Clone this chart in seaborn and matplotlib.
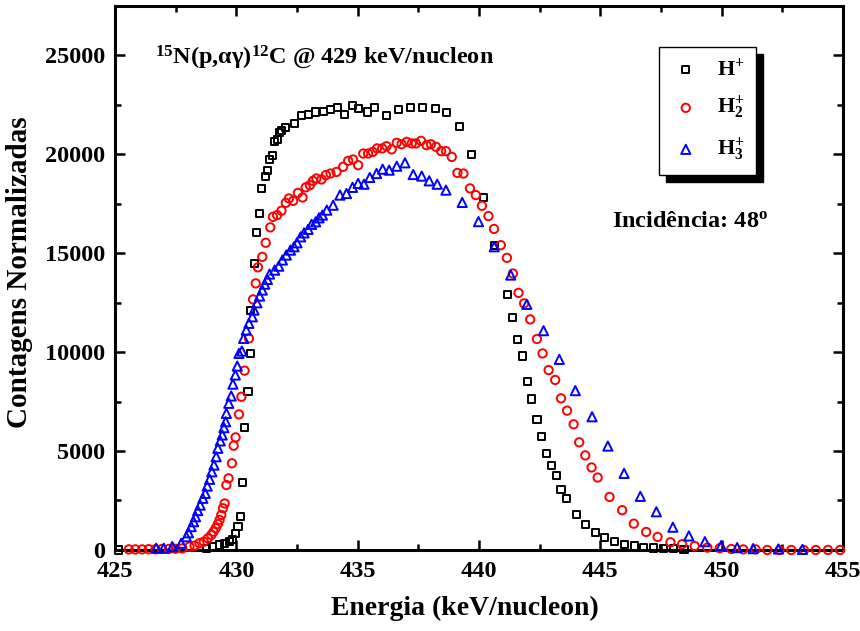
import matplotlib
matplotlib.use("Agg")
import matplotlib.pyplot as plt
import seaborn as sns
import pandas as pd
from matplotlib.patches import Rectangle
from matplotlib.transforms import IdentityTransform
from matplotlib.ticker import MultipleLocator

# ---------------- data ----------------
x_H1 = [425.15, 428.76, 429.03, 429.31, 429.52, 429.72, 429.86, 429.97, 430.07, 430.18,
        430.27, 430.34, 430.48, 430.58, 430.59, 430.76, 430.85, 430.96, 431.03, 431.20,
        431.28, 431.37, 431.49, 431.58, 431.68, 431.79, 431.86, 432.04, 432.38, 432.68,
        432.96, 433.27, 433.58, 433.89, 434.16, 434.47, 434.79, 435.05, 435.39, 435.68,
        436.19, 436.67, 437.18, 437.68, 438.19, 438.67, 439.19, 439.70, 440.18, 440.64,
        441.19, 441.38, 441.59, 441.79, 442.00, 442.18, 442.39, 442.56, 442.80, 442.98,
        443.18, 443.38, 443.60, 444.00, 444.38, 444.79, 445.18, 445.59, 445.99, 446.40,
        446.79, 447.20, 447.61, 448.03, 448.45]
y_H1 = [0, 90, 170, 250, 340, 420, 540, 840, 1180, 1680,
        3400, 6180, 7990, 9930, 12120, 14480, 16030, 17000, 18250, 18890,
        19190, 19750, 19910, 20620, 20740, 21070, 21180, 21350, 21550, 21970,
        22020, 22130, 22170, 22260, 22360, 22020, 22460, 22310, 22130, 22360,
        21970, 22270, 22360, 22360, 22310, 22100, 21380, 20000, 17810, 15400,
        12930, 11730, 10640, 9800, 8500, 7630, 6600, 5720, 4880, 4290,
        3750, 3070, 2580, 1800, 1300, 890, 640, 420, 290, 200,
        140, 100, 70, 70, 40]

x_H2 = [425.57, 425.84, 426.12, 426.39, 426.67, 426.94, 427.22, 427.49, 427.77, 428.07,
        428.28, 428.48, 428.66, 428.83, 428.97, 429.06, 429.15, 429.24, 429.31, 429.38,
        429.45, 429.52, 429.59, 429.68, 429.82, 429.89, 429.97, 430.11, 430.21, 430.34,
        430.52, 430.69, 430.80, 430.89, 431.07, 431.21, 431.40, 431.51, 431.68, 431.86,
        432.04, 432.17, 432.34, 432.54, 432.73, 432.86, 433.03, 433.16, 433.30, 433.51,
        433.69, 433.88, 434.13, 434.40, 434.61, 434.81, 435.02, 435.23, 435.43, 435.62,
        435.80, 436.01, 436.19, 436.40, 436.61, 436.81, 437.02, 437.23, 437.40, 437.61,
        437.84, 438.02, 438.23, 438.44, 438.64, 438.88, 439.11, 439.36, 439.63, 439.87,
        440.12, 440.39, 440.62, 440.90, 441.15, 441.40, 441.63, 441.86, 442.11, 442.39,
        442.62, 442.87, 443.14, 443.38, 443.63, 443.90, 444.13, 444.38, 444.64, 444.89,
        445.38, 445.90, 446.38, 446.89, 447.36, 447.89, 448.37, 448.89, 449.41, 449.92,
        450.40, 450.89, 451.40, 451.88, 452.39, 452.87, 453.39, 453.88, 454.38, 454.88]
y_H2 = [30, 30, 30, 40, 40, 50, 50, 60, 80, 170,
        220, 340, 420, 590, 760, 920, 1100, 1310, 1520, 1770,
        2110, 2350, 3280, 3620, 4380, 5270, 5690, 6850, 7740, 9060,
        10690, 12660, 13470, 14280, 14810, 15520, 16300, 16830, 16920, 17140,
        17540, 17760, 17640, 18040, 17810, 18320, 18430, 18650, 18770, 18720,
        18940, 19020, 19100, 19360, 19660, 19730, 19440, 20030, 20030, 20110,
        20290, 20290, 20400, 20240, 20570, 20500, 20620, 20540, 20540, 20670,
        20450, 20500, 20370, 20150, 20150, 19860, 19050, 19020, 18270, 17930,
        17390, 16870, 16220, 15400, 14760, 13970, 12990, 12460, 11650, 10660,
        9930, 9090, 8590, 7660, 7040, 6350, 5440, 4780, 4170, 3660,
        2680, 2010, 1330, 910, 660, 390, 290, 200, 120, 90,
        50, 30, 30, 0, 0, 0, 0, 0, 0, 0]

x_H3 = [426.70, 427.01, 427.36, 427.73, 427.94, 428.03, 428.14, 428.24, 428.32, 428.41,
        428.51, 428.62, 428.72, 428.80, 428.90, 428.99, 429.08, 429.17, 429.24, 429.34,
        429.42, 429.49, 429.56, 429.59, 429.69, 429.79, 429.86, 429.96, 430.04, 430.11,
        430.23, 430.30, 430.41, 430.52, 430.66, 430.73, 430.85, 430.96, 431.07, 431.17,
        431.28, 431.37, 431.58, 431.75, 431.90, 432.06, 432.23, 432.38, 432.50, 432.65,
        432.79, 432.96, 433.10, 433.27, 433.41, 433.55, 433.73, 433.99, 434.27, 434.54,
        434.79, 435.02, 435.26, 435.50, 435.78, 436.03, 436.30, 436.61, 436.95, 437.29,
        437.64, 437.95, 438.28, 438.64, 439.31, 439.98, 440.63, 441.31, 441.97, 442.66,
        443.31, 443.97, 444.66, 445.31, 445.98, 446.65, 447.31, 447.99, 448.65, 449.31,
        449.98, 450.64, 451.30, 452.34, 453.33]
y_H3 = [90, 90, 170, 340, 670, 870, 1180, 1430, 1680, 1990,
        2270, 2610, 2860, 3230, 3570, 3950, 4290, 4710, 5140, 5510,
        5810, 6180, 6480, 6900, 7410, 7780, 8380, 8840, 9290, 9930,
        10050, 10690, 11110, 11450, 11780, 12120, 12490, 12830, 13130, 13430,
        13670, 13940, 14140, 14340, 14650, 14900, 15150, 15320, 15520, 15820,
        16020, 16200, 16450, 16580, 16780, 16920, 17170, 17420, 17930, 18010,
        18320, 18520, 18480, 18820, 19020, 19240, 19190, 19390, 19560, 18970,
        18890, 18650, 18480, 18180, 17560, 16590, 15320, 13890, 12410, 11080,
        9630, 8050, 6730, 5250, 3870, 2710, 1930, 1150, 710, 420,
        220, 120, 70, 50, 30]

labels = [r"H$^{+}$", r"H$_{2}^{+}$", r"H$_{3}^{+}$"]
x_ticks = [425, 430, 435, 440, 445, 450, 455]
y_ticks = [0, 5000, 10000, 15000, 20000, 25000]
title_text = r"$^{15}$N(p,αγ)$^{12}$C @ 429 keV/nucleon"
incid_text = r"Incidência: 48$^{\mathrm{o}}$"
x_label = "Energia (keV/nucleon)"
y_label = "Contagens Normalizadas"

# ---------------- style ----------------
sns.set_theme(style="ticks")
plt.rcParams.update({
    "font.family": ["Liberation Serif", "DejaVu Serif"],
    "font.weight": "bold",
    "axes.labelweight": "bold",
    "text.color": "black",
    "axes.labelcolor": "black",
    "xtick.color": "black",
    "ytick.color": "black",
    "axes.edgecolor": "black",
    "mathtext.fontset": "custom",
    "mathtext.rm": "Liberation Serif:bold",
    "mathtext.bf": "Liberation Serif:bold",
    "mathtext.it": "Liberation Serif:italic:bold",
    "mathtext.sf": "Liberation Serif:bold",
})

fig = plt.figure(figsize=(8.6, 6.31), dpi=100)
ax = fig.add_axes([0.1337, 0.1284, 0.8465, 0.8626])

series = [
    (x_H1, y_H1, labels[0], "s", "black", 26),
    (x_H2, y_H2, labels[1], "o", "#ff0000", 36),
    (x_H3, y_H3, labels[2], "^", "#0000ff", 44),
]
for i, (xs, ys, lab, mk, col, sz) in enumerate(series):
    df = pd.DataFrame({"E": xs, "C": ys})
    sns.scatterplot(data=df, x="E", y="C", ax=ax, marker=mk, s=sz,
                    color=col, facecolor="none", edgecolor=col,
                    linewidth=1.4, label=lab, clip_on=False, zorder=3 + i)

ax.set_xlim(425, 455)
ax.set_ylim(0, 27500)
ax.set_xticks(x_ticks)
ax.set_yticks(y_ticks)
ax.xaxis.set_minor_locator(MultipleLocator(2.5))
ax.yaxis.set_minor_locator(MultipleLocator(2500))
ax.tick_params(which="both", direction="in", top=True, right=True,
               labelsize=17.5, width=1.8, colors="black")
ax.tick_params(axis="x", which="both", pad=8)
ax.tick_params(axis="y", which="both", pad=7)
ax.tick_params(which="major", length=7)
ax.tick_params(which="minor", length=4)
for t in ax.get_xticklabels() + ax.get_yticklabels():
    t.set_fontweight("bold")
for sp in ax.spines.values():
    sp.set_linewidth(2.2)
    sp.set_color("black")

ax.set_xlabel(x_label, fontsize=20, fontweight="bold", color="black")
ax.set_ylabel(y_label, fontsize=21, fontweight="bold", color="black")
ax.xaxis.set_label_coords(0.481, -0.084)
ax.yaxis.set_label_coords(-0.112, 0.511)

ax.text(0.055, 0.906, title_text, transform=ax.transAxes, fontsize=17.5,
        fontweight="bold", ha="left", va="center", color="black")
ax.text(0.683, 0.603, incid_text, transform=ax.transAxes, fontsize=17.5,
        fontweight="bold", ha="left", va="center", color="black")

leg = ax.legend(loc="upper right", bbox_to_anchor=(0.880, 0.924), frameon=True,
                fancybox=False, edgecolor="black", framealpha=1, fontsize=16,
                scatterpoints=1, handletextpad=0.7, labelspacing=0.6,
                borderpad=0.5, handlelength=1.4, borderaxespad=0)
leg.get_frame().set_linewidth(1.0)
leg.set_zorder(10)
for t in leg.get_texts():
    t.set_fontweight("bold")
    t.set_color("black")

fig.canvas.draw()
bb = leg.get_frame().get_window_extent()
shadow = Rectangle((bb.x0 + 7, bb.y0 - 7), bb.width, bb.height,
                   transform=IdentityTransform(), facecolor="black",
                   edgecolor="black", zorder=9, clip_on=False)
ax.add_artist(shadow)

fig.savefig("out.png", dpi=100)
